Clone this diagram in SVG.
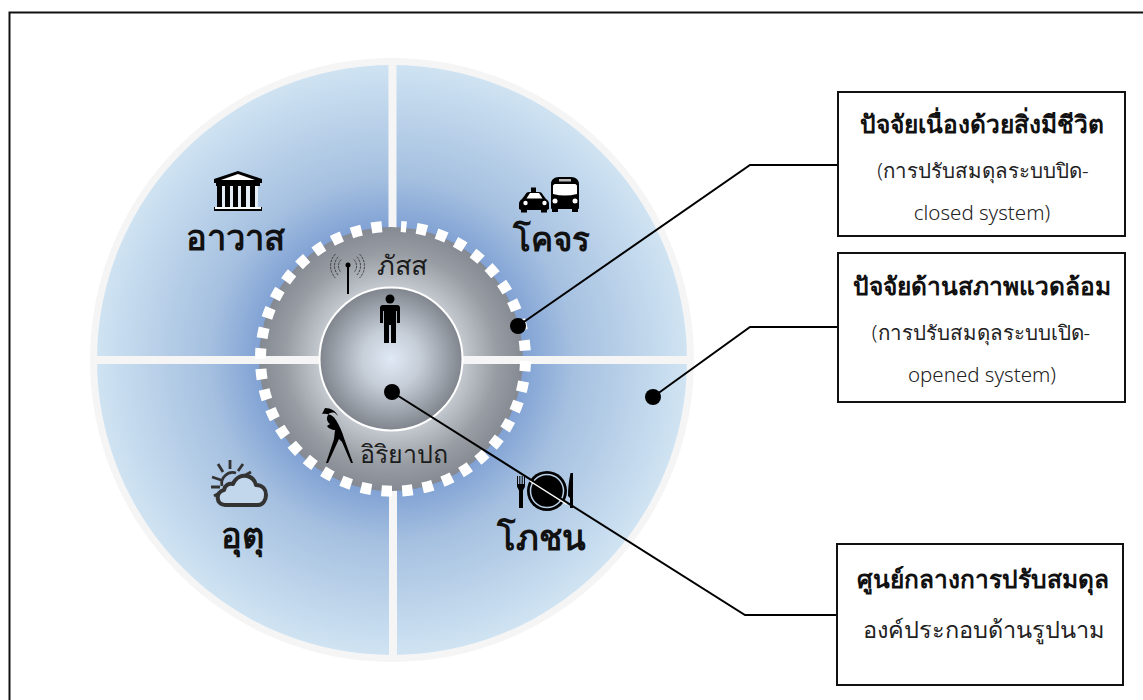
<svg xmlns="http://www.w3.org/2000/svg" width="1143" height="700" viewBox="0 0 1143 700">
<style>
text{font-family:"Noto Sans","DejaVu Sans","Liberation Sans",sans-serif;text-anchor:middle;fill:#111}
.q{font-size:34.500px;font-weight:600}
.m{font-size:27px;font-weight:500;fill:#1c1c1c}
.h{font-size:24.500px;font-weight:600}
.s{font-size:20.500px;font-weight:300;fill:#222}
.box{fill:#fff;stroke:#111;stroke-width:2}
.ln{fill:none;stroke:#000;stroke-width:2}
.ic{fill:#000}
.ist{fill:none;stroke:#333}
</style>
<defs>
<radialGradient id="gb" gradientUnits="userSpaceOnUse" cx="391" cy="359" r="295"><stop offset=".42" stop-color="#7b9dd2"/><stop offset=".62" stop-color="#a5c0e0"/><stop offset="1" stop-color="#cfe3f2"/></radialGradient>
<radialGradient id="gr" gradientUnits="userSpaceOnUse" cx="391" cy="359" r="132"><stop offset=".55" stop-color="#c3c8ce"/><stop offset=".8" stop-color="#989da4"/><stop offset="1" stop-color="#858a92"/></radialGradient>
<radialGradient id="gc" gradientUnits="userSpaceOnUse" cx="391" cy="359" r="72"><stop offset="0" stop-color="#dfe9f5"/><stop offset=".4" stop-color="#c6ced8"/><stop offset="1" stop-color="#7f848c"/></radialGradient>
</defs>
<rect width="1143" height="700" fill="#fff"/>
<path d="M9.500 700V12.500H1143" fill="none" stroke="#111" stroke-width="2"/>
<g id="disk">
<circle cx="392" cy="360" r="302" fill="#f5f5f5"/>
<circle cx="392" cy="360" r="295" fill="url(#gb)"/>
<path d="M392.500 60V360M393 360V660M90 360H694" stroke="#f5f5f5" stroke-width="8" fill="none"/>
<circle cx="391" cy="359" r="132" fill="url(#gr)"/>
<path d="M258 360H320M462 360H524" stroke="#f5f5f5" stroke-width="8"/>
<path d="M401 226.500A132.500 132.500 0 1 1 385 226.500" fill="none" stroke="#fff" stroke-width="11" stroke-dasharray="10.500 10.200" stroke-dashoffset="5"/>
<circle cx="391" cy="359" r="71.500" fill="url(#gc)" stroke="#fff" stroke-width="2"/>
</g>
<g id="node-housing">
<path class="ic" d="M238 171l24 8v4h-48v-4z"/><path d="M238 174l17 6h-34z" fill="#fff"/>
<path d="M216 183h44v3h-44zM214 207h48v4h-48z" class="ic"/><rect x="215" y="207" width="46" height="2" fill="#fff"/>
<path d="M217 186h5v21h-5zM225 186h5v21h-5zM233 186h5v21h-5zM241 186h5v21h-5zM250 186h5v21h-5z" class="ic"/>
<path d="M222 186h3v21h-3zM230 186h3v21h-3zM238 186h3v21h-3zM246 186h4v21h-4zM255 186h3v21h-3z" fill="#e4edf6"/>
<text class="q" x="235.500" y="250">อาวาส</text>
</g>
<g id="node-transport">
<path class="ic" d="M531 192v-4.500h5v4.500h3c2 0 3 1 4 3l3 4c2 1 3 3 3 5v5l-2 1v2.500h-6v-2.500h-14v2.500h-6v-2.500l-2-1v-5c0-2 1-4 3-5l3-4c1-2 2-3 4-3z"/>
<path d="M530 193h9l3.500 5.500h-16z" fill="#fff"/><circle cx="525.500" cy="203" r="2.200" fill="#fff"/><circle cx="544.500" cy="203" r="2.200" fill="#fff"/>
<path class="ic" d="M559 177h12c5 0 8 3 8 7v24c0 1-1 1-1 1v3h-6v-3h-14v3h-6v-3s-1 0-1-1v-24c0-4 3-7 8-7z"/>
<path d="M553 186c0-1 1-2 2-2h20c1 0 2 1 2 2v8c-8 2-16 2-24 0z" fill="#fff"/><rect x="559" y="179" width="12" height="2.500" fill="#bbb"/>
<circle cx="555" cy="201" r="2.500" fill="#fff"/><circle cx="575" cy="201" r="2.500" fill="#fff"/>
<text class="q" x="551" y="251" style="font-size:33px">โคจร</text>
</g>
<g id="node-climate">
<path d="M222 486a11 11 0 0 1 14-13M230 460v9M218 464l5 8M243 464l-5 7M251 472l-9 5M212 477l9 3M211 487h9M214 496l7-4" fill="none" stroke="#333" stroke-width="2.800"/>
<path d="M225 505c-9 0-10-13-1-15 1-5 5-7 9-6 3-7 9-9 14-8 5 1 8 5 9 9 7 0 10 5 10 10s-3 10-8 10z" fill="#c3d7ec" stroke="#333" stroke-width="4" stroke-linejoin="round"/>
<text class="q" x="242" y="548">อุตุ</text>
</g>
<g id="node-food">
<path class="ic" d="M517 476h1v8h1.300v-8h1v8h1.400v-8h1v8h1.300v-8h1v10c0 2-2 3-2 5v17h-4v-17c0-2-2-3-2-5zM570.500 473h2.500v35h-3v-10l-2-2c0-8 1-16 2.500-23z"/>
<circle cx="547" cy="491" r="20" class="ic"/><circle cx="547" cy="491" r="16.500" fill="none" stroke="#b9cfe6" stroke-width="1.500"/>
<path d="M530 480.500L567 504" stroke="#fff" stroke-width="2.500"/>
<text class="q" x="541" y="550">โภชน</text>
</g>
<g id="node-contact">
<path class="ist" stroke-width=".9" stroke-dasharray="2.500 1" d="M335.500 254A17 17 0 0 0 335.500 278M338.300 256.800A13 13 0 0 0 338.300 275.200M341.100 259.600A9 9 0 0 0 341.100 272.400M359.500 254A17 17 0 0 1 359.500 278M356.700 256.800A13 13 0 0 1 356.700 275.200M353.900 259.600A9 9 0 0 1 353.900 272.400"/>
<circle cx="348" cy="265" r="2.500" class="ic"/><path d="M348 265v29" stroke="#000" stroke-width="2"/>
<text class="m" x="402" y="275">ภัสส</text>
</g>
<g id="node-posture">
<path class="ic" d="M322 414c6-1 11 1 14 6 3 5 6 11 8 18l9 25h-2l-9-21-3-3-11 24h-2l8-24 1-9c-3 0-7-2-8-4l3-2c-3-2-4-6-2-9 2-3 6-3 8-1l2 2c-2-5-7-8-13-8z"/>
<text class="m" x="403.500" y="462.500" style="font-size:25px">อิริยาปถ</text>
</g>
<g id="node-center">
<circle cx="390" cy="299" r="4.500" class="ic"/>
<path class="ic" d="M383 305h14c2 0 3 1 3 3v15h-3v-12h-1v32h-5v-18h-2v18h-5v-32h-1v12h-3v-15c0-2 1-3 3-3z"/>
</g>
<g id="connectors">
<path class="ln" d="M518 326L750 165H838"/>
<path class="ln" d="M653 397L750 327H838"/>
<path class="ln" d="M392 392L745 615H836"/>
<circle cx="518" cy="326" r="8" class="ic"/><circle cx="653" cy="397" r="8" class="ic"/><circle cx="392" cy="392" r="8" class="ic"/>
</g>
<g id="box-closed">
<rect class="box" x="838" y="92" width="287" height="144"/>
<text class="h" x="981.500" y="133">ปัจจัยเนื่องด้วยสิ่งมีชีวิต</text>
<text class="s" x="983" y="178">(การปรับสมดุลระบบปิด-</text>
<text class="s" x="982" y="220">closed system)</text>
</g>
<g id="box-opened">
<rect class="box" x="838" y="253" width="287" height="149"/>
<text class="h" x="981.500" y="295">ปัจจัยด้านสภาพแวดล้อม</text>
<text class="s" x="981" y="340">(การปรับสมดุลระบบเปิด-</text>
<text class="s" x="982" y="381.500">opened system)</text>
</g>
<g id="box-center">
<rect class="box" x="837" y="544" width="286" height="141"/>
<text class="h" x="983" y="588">ศูนย์กลางการปรับสมดุล</text>
<text class="s" x="983" y="638" style="font-size:23.500px">องค์ประกอบด้านรูปนาม</text>
</g>
</svg>
